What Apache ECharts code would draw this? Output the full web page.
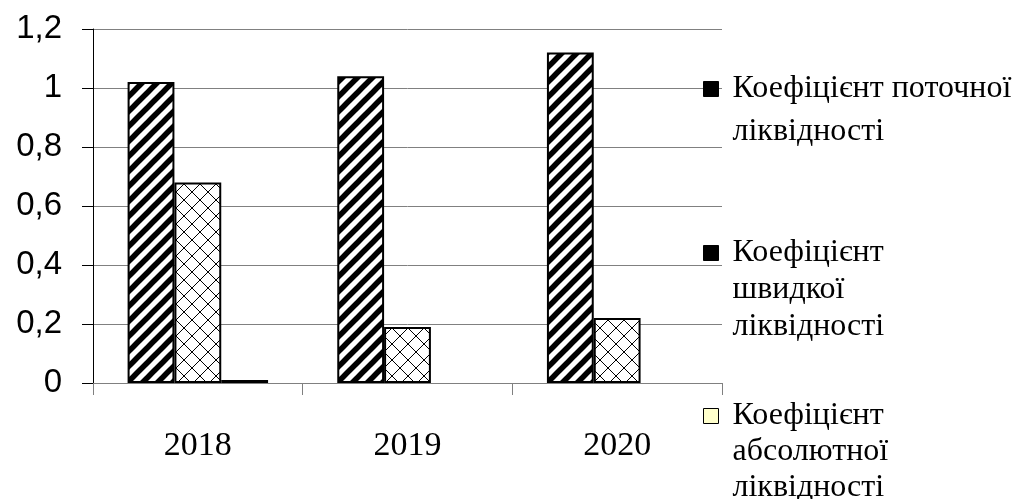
<!DOCTYPE html>
<html style="height: 100%">
<head>
    <meta charset="utf-8">
    <title>Коефіцієнти ліквідності</title>
    <style>
        html, body { margin: 0; padding: 0; background: #fff; }
    </style>
</head>
<body style="height: 100%">
    <div id="container" style="width: 1015px; height: 499px"></div>
    <script type="text/javascript" src="https://cdn.jsdelivr.net/npm/echarts@6/dist/echarts.min.js"></script>
    <script type="text/javascript">
        // chart data
        var years         = ['2018', '2019', '2020'];
        var currentRatio  = [1.02, 1.04, 1.12];
        var quickRatio    = [0.68, 0.19, 0.22];
        var absoluteRatio = [0.01, null, null];
        var seriesNames   = [
            'Коефіцієнт поточної ліквідності',
            'Коефіцієнт швидкої ліквідності',
            'Коефіцієнт абсолютної ліквідності'
        ];
        var legendLines   = [
            ['Коефіцієнт поточної', 'ліквідності'],
            ['Коефіцієнт', 'швидкої', 'ліквідності'],
            ['Коефіцієнт', 'абсолютної', 'ліквідності']
        ];

        // hatch fills like the old office chart
        function stripes() {
            var s = 15, c = document.createElement('canvas');
            c.width = s; c.height = s;
            var ctx = c.getContext('2d');
            ctx.fillStyle = '#fff';
            ctx.fillRect(0, 0, s, s);
            ctx.strokeStyle = '#000';
            ctx.lineWidth = 5.5;
            for (var k = -1; k <= 1; k++) {
                ctx.beginPath();
                ctx.moveTo(k * s - 2, s + 2);
                ctx.lineTo(k * s + s + 2, -2);
                ctx.stroke();
            }
            return c;
        }

        function lattice() {
            var s = 16, c = document.createElement('canvas');
            c.width = s; c.height = s;
            var ctx = c.getContext('2d');
            ctx.fillStyle = '#fff';
            ctx.fillRect(0, 0, s, s);
            ctx.strokeStyle = '#000';
            ctx.lineWidth = 1;
            for (var k = -1; k <= 1; k++) {
                ctx.beginPath();
                ctx.moveTo(k * s - 2, s + 2);
                ctx.lineTo(k * s + s + 2, -2);
                ctx.stroke();
                ctx.beginPath();
                ctx.moveTo(k * s - 2, -2);
                ctx.lineTo(k * s + s + 2, s + 2);
                ctx.stroke();
            }
            return c;
        }

        var dom     = document.getElementById('container');
        var myChart = echarts.init(dom, null, {renderer: 'canvas'});

        var serif = 'Liberation Serif';

        // icon sits beside the first line: pad the text with blank lines on top
        function legendFor(i, iconY, lineH, fill) {
            var lines = legendLines[i];
            var pad = new Array(lines.length).join('\n');
            return {
                orient: 'vertical',
                left: 703,
                top: iconY - (2 * lines.length - 1) * lineH / 2,
                padding: 0,
                itemWidth: 15,
                itemHeight: 15,
                icon: 'rect',
                selectedMode: false,
                formatter: function () { return pad + lines.join('\n'); },
                textStyle: {
                    fontFamily: serif,
                    fontSize: 32,
                    color: '#000',
                    lineHeight: lineH,
                    padding: [0, 0, 0, 9]
                },
                data: [{
                    name: seriesNames[i],
                    itemStyle: {color: fill, borderColor: '#000', borderWidth: 1}
                }]
            };
        }

        var barStyle = function (fill) {
            return {color: fill, borderColor: '#000', borderWidth: 2};
        };

        var option = {
            animation: false,
            backgroundColor: '#fff',
            grid: {
                left: 93,
                right: 293,
                top: 29,
                bottom: 116,
                containLabel: false,
                outerBoundsMode: 'none'
            },
            legend: [
                legendFor(0, 89, 43, '#000'),
                legendFor(1, 253, 37, '#000'),
                legendFor(2, 416, 36, '#ffffcc')
            ],
            xAxis: {
                type: 'category',
                data: years,
                axisLine: {lineStyle: {color: '#808080', width: 1}},
                axisTick: {show: true, length: 12, lineStyle: {color: '#808080'}},
                axisLabel: {
                    margin: 46,
                    fontFamily: serif,
                    fontSize: 34,
                    color: '#000'
                }
            },
            yAxis: {
                type: 'value',
                min: 0,
                max: 1.2,
                interval: 0.2,
                axisLine: {show: true, lineStyle: {color: '#000', width: 1}},
                axisTick: {show: true, length: 11, lineStyle: {color: '#000'}},
                splitLine: {lineStyle: {color: '#808080', width: 1}},
                axisLabel: {
                    margin: 31,
                    fontFamily: 'Liberation Sans',
                    fontSize: 33,
                    color: '#000',
                    formatter: function (v) {
                        return String(Math.round(v * 10) / 10).replace('.', ',');
                    }
                }
            },
            series: [{
                name: seriesNames[0],
                type: 'bar',
                barGap: '0%',
                barCategoryGap: '33%',
                itemStyle: barStyle({image: stripes(), repeat: 'repeat'}),
                data: currentRatio
            }, {
                name: seriesNames[1],
                type: 'bar',
                barGap: '0%',
                barCategoryGap: '33%',
                itemStyle: barStyle({image: lattice(), repeat: 'repeat'}),
                data: quickRatio
            }, {
                name: seriesNames[2],
                type: 'bar',
                barGap: '0%',
                barCategoryGap: '33%',
                itemStyle: barStyle('#ffffcc'),
                data: absoluteRatio
            }]
        };

        myChart.setOption(option, true);
    </script>
</body>
</html>
